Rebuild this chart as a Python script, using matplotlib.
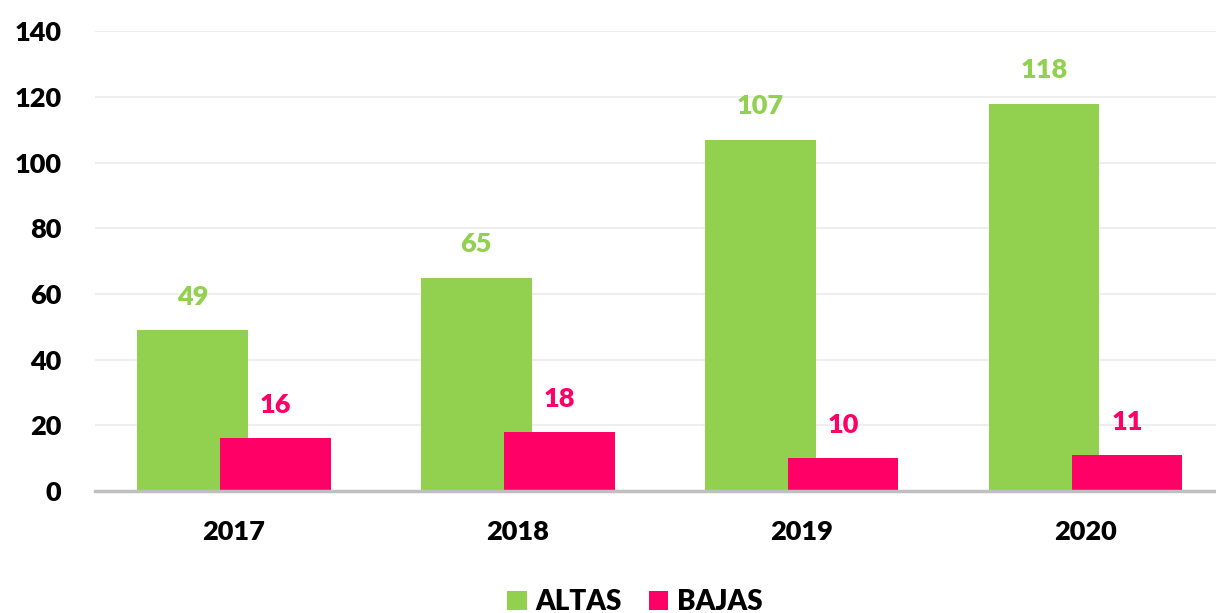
import numpy as np
import matplotlib
matplotlib.use("Agg")
import matplotlib.pyplot as plt

anios = ["2017", "2018", "2019", "2020"]
altas = [49, 65, 107, 118]
bajas = [16, 18, 10, 11]

verde = "#92D050"
rosa = "#FF0066"

plt.rcParams['font.family'] = ['Lato', 'DejaVu Sans']
plt.rcParams['font.weight'] = 'heavy'

fig = plt.figure(figsize=(12.16, 6.13), dpi=100)
ax = fig.add_axes([0.078, 0.199, 0.922, 0.75])

x = np.arange(len(anios))
ancho = 0.39
desp = 0.146

b1 = ax.bar(x - desp, altas, ancho, color=verde, label="ALTAS", zorder=2)
b2 = ax.bar(x + desp, bajas, ancho, color=rosa, label="BAJAS", zorder=3)

for barras, color in ((b1, verde), (b2, rosa)):
    for b in barras:
        ax.annotate(f"{b.get_height():.0f}",
                    (b.get_x() + b.get_width() / 2, b.get_height()),
                    xytext=(0, 24), textcoords="offset points",
                    ha="center", va="center", color=color,
                    fontsize=19.5, fontweight="heavy")

ax.set_ylim(0, 140)
ax.set_yticks(np.arange(0, 141, 20))
ax.set_xlim(-0.49, 3.46)
ax.set_xticks(x)
ax.set_xticklabels(anios)
ax.tick_params(axis="both", length=0, labelsize=19.5)
ax.tick_params(axis="y", pad=24)
ax.tick_params(axis="x", pad=21)

ax.grid(axis="y", color="#EEEEEE", linewidth=1.5, zorder=0)
for s in ["top", "right", "left"]:
    ax.spines[s].set_visible(False)
ax.spines["bottom"].set_color("#BFBFBF")
ax.spines["bottom"].set_linewidth(2.5)
ax.spines["bottom"].set_zorder(4)

fig.legend(handles=[b1, b2], loc="center", bbox_to_anchor=(0.522, 0.018),
           ncol=2, frameon=False, fontsize=20, handlelength=0.7,
           handleheight=0.7, handletextpad=0.3, columnspacing=1.0)

fig.savefig("out.png", dpi=100)
